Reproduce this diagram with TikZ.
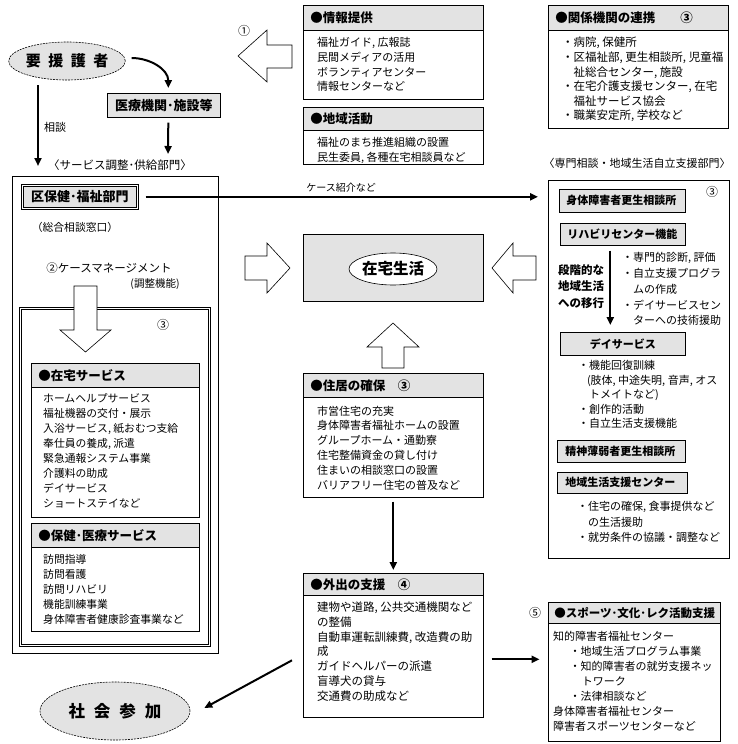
\documentclass[tikz,border=0pt]{standalone}
\usepackage{fontspec}
\setmainfont{Noto Sans CJK JP}
\usetikzlibrary{arrows.meta,shapes.geometric}
\begin{document}
\begin{tikzpicture}[x=1pt,y=-1pt,
  box/.style={draw, line width=0.6pt, anchor=north west, inner sep=0pt},
  hdr/.style={draw, line width=0.6pt, fill=gray!22, anchor=north west, inner xsep=7pt, inner ysep=0pt, align=left, font=\bfseries\fontsize{12.5pt}{14pt}\selectfont},
  body/.style={anchor=north west, inner sep=0pt, align=left},
  lab/.style={draw, line width=0.6pt, fill=gray!22, anchor=north west, inner xsep=7pt, inner ysep=0pt, align=left, font=\bfseries\fontsize{11pt}{13pt}\selectfont},
  arr/.style={line width=2pt, -{Triangle[length=8pt,width=7pt]}},
  hollow/.style={draw, line width=0.6pt, fill=white, line join=miter},
  txt/.style={inner sep=0pt, font=\fontsize{11pt}{13pt}\selectfont},
  oval/.style={ellipse, draw, line width=0.6pt, dash pattern=on 2pt off 1pt, fill=gray!22, inner sep=0pt},
]
\useasboundingbox (0,0) rectangle (737,744);

% ---------- left top ----------
\node[oval, minimum width=111pt, minimum height=38pt, font=\bfseries\fontsize{15pt}{16pt}\selectfont] (yoen) at (67,61) {要\hspace{7.5pt}援\hspace{7.5pt}護\hspace{7.5pt}者};
\node[box, fill=gray!22, minimum width=113pt, minimum height=24pt, font=\bfseries\fontsize{13pt}{14pt}\selectfont] (iryo) at (107,93) {医療機関･施設等};
\node[txt] (soudan) at (55,127) {相談};
\node[txt, font=\fontsize{11.5pt}{13pt}\selectfont] (kyokyu) at (120,165) {〈サービス調整･供給部門〉};

\coordinate (c1s) at (38,85);
\coordinate (iryoEnd) at (168,154);
\draw[arr] ([xshift=6pt,yshift=3pt]yoen.east) to[out=0,in=90] ([xshift=4.5pt,yshift=5pt]iryo.north);
\draw[arr] ([xshift=4.5pt,yshift=-5pt]iryo.south) -- (iryoEnd);

% ---------- left big box ----------
\node[box, minimum width=206pt, minimum height=477pt] (leftBig) at (12,176) {};
\draw[arr, shorten >=10pt] (c1s) -- (c1s |- leftBig.north);
\node[box, fill=gray!22, double, double distance=1.5pt, minimum width=115pt, minimum height=23pt, font=\bfseries\fontsize{13pt}{14pt}\selectfont] (kuhoken) at (22,185) {区保健･福祉部門};
\node[txt, font=\fontsize{10.8pt}{13pt}\selectfont] (sogo) at (75,227) {（総合相談窓口）};
\node[txt, font=\fontsize{11.5pt}{13pt}\selectfont] (cm) at (109,268) {②ケースマネージメント};
\node[txt, font=\fontsize{10.5pt}{12pt}\selectfont] (chosei) at (155,284) {(調整機能)};
\node[box, double, double distance=1.6pt, minimum width=189pt, minimum height=337pt] (innerD) at (20,308) {};
\node[txt, font=\fontsize{12pt}{13pt}\selectfont] (n3a) at (163,325) {③};
\draw[hollow] (85.5,352) -- (60,330) -- (74,330) -- (74,286) -- (97,286) -- (97,330) -- (111,330) -- cycle;

% 在宅サービス
\node[box, minimum width=168pt, minimum height=154pt] (zsv) at (31,363) {};
\node[hdr, text width=154pt, minimum height=24pt] (zsvH) at (31,363) {●在宅サービス};
\node[body, font=\fontsize{10.8pt}{15pt}\selectfont] (zsvB) at (43,393.6) {ホームヘルプサービス\\福祉機器の交付・展示\\入浴サービス, 紙おむつ支給\\奉仕員の養成, 派遣\\緊急通報システム事業\\介護料の助成\\デイサービス\\ショートステイなど};

% 保健・医療サービス
\node[box, minimum width=168pt, minimum height=108pt] (hoken) at (31,523) {};
\node[hdr, text width=154pt, minimum height=24pt] (hokenH) at (31,523) {●保健･医療サービス};
\node[body, font=\fontsize{10.8pt}{15pt}\selectfont] (hokenB) at (43,554.6) {訪問指導\\訪問看護\\訪問リハビリ\\機能訓練事業\\身体障害者健康診査事業など};

% ---------- middle column ----------
\node[txt, font=\fontsize{12pt}{13pt}\selectfont] (n1) at (244,31) {①};
\draw[hollow] (238,56) -- (267,30) -- (267,45) -- (292,45) -- (292,68) -- (267,68) -- (267,82) -- cycle;

\node[box, minimum width=180pt, minimum height=94pt] (info) at (303,5) {};
\node[hdr, text width=166pt, minimum height=25pt] (infoH) at (303,5) {●情報提供};
\node[body, font=\fontsize{11pt}{14.6pt}\selectfont] (infoB) at (317,37.5) {福祉ガイド, 広報誌\\民間メディアの活用\\ボランティアセンター\\情報センターなど};

\node[box, minimum width=180pt, minimum height=57pt] (chiiki) at (303,107) {};
\node[hdr, text width=166pt, minimum height=23pt] (chiikiH) at (303,107) {●地域活動};
\node[body, font=\fontsize{11pt}{14.5pt}\selectfont] (chiikiB) at (317,137.5) {福祉のまち推進組織の設置\\民生委員, 各種在宅相談員など};

\node[txt, font=\fontsize{10pt}{12pt}\selectfont] (case) at (341,188) {ケース紹介など};

\node[box, fill=gray!22, minimum width=180pt, minimum height=67pt] (zaitaku) at (303,234) {};
\node[ellipse, draw, line width=0.6pt, fill=white, minimum width=88pt, minimum height=32pt, inner sep=0pt, font=\bfseries\fontsize{15.5pt}{16pt}\selectfont] (zaitakuE) at (393,269) {在宅生活};

\draw[hollow] (290,268) -- (267,243) -- (267,256) -- (245,256) -- (245,280) -- (267,280) -- (267,293) -- cycle;
\draw[hollow] (492,268) -- (513,243) -- (513,256) -- (536,256) -- (536,280) -- (513,280) -- (513,293) -- cycle;
\draw[hollow] (393,323) -- (419,347) -- (404,347) -- (404,368) -- (382,368) -- (382,347) -- (367,347) -- cycle;

\node[box, minimum width=180pt, minimum height=124pt] (jukyo) at (303,373) {};
\node[hdr, text width=166pt, minimum height=24pt] (jukyoH) at (303,373) {●住居の確保\hspace{1em}③};
\node[body, font=\fontsize{11pt}{14.8pt}\selectfont] (jukyoB) at (317,405.5) {市営住宅の充実\\身体障害者福祉ホームの設置\\グループホーム・通勤寮\\住宅整備資金の貸し付け\\住まいの相談窓口の設置\\バリアフリー住宅の普及など};

\node[box, minimum width=180pt, minimum height=144pt] (gaishutsu) at (303,573) {};
\node[hdr, text width=166pt, minimum height=22pt] (gaishutsuH) at (303,573) {●外出の支援\hspace{1em}④};
\node[body, font=\fontsize{11.5pt}{14.7pt}\selectfont] (gaishutsuB) at (317,602) {建物や道路, 公共交通機関など\\の整備\\自動車運転訓練費, 改造費の助\\成\\ガイドヘルパーの派遣\\盲導犬の貸与\\交通費の助成など};

\draw[arr, shorten <=4pt, shorten >=3pt] (jukyo.south) -- (gaishutsu.north);

\node[oval, minimum width=150pt, minimum height=58pt, font=\bfseries\fontsize{16.5pt}{17pt}\selectfont] (shakai) at (115,711) {社\hspace{9pt}会\hspace{9pt}参\hspace{9pt}加};
\coordinate (diagS) at ([xshift=-11pt,yshift=-15pt]gaishutsu.west);
\coordinate (diagE) at ([xshift=14pt,yshift=3pt]shakai.east);
\draw[arr] (diagS) -- (diagE);

% ---------- right column ----------
\node[box, minimum width=180pt, minimum height=123pt] (renkei) at (548,5) {};
\node[hdr, text width=166pt, minimum height=25pt] (renkeiH) at (548,5) {●関係機関の連携\hspace{2em}③};
\node[body, font=\fontsize{11.5pt}{14.6pt}\selectfont] (renkeiB) at (562,37) {・病院, 保健所\\・区福祉部, 更生相談所, 児童福\\\hspace*{1em}祉総合センター, 施設\\・在宅介護支援センター, 在宅\\\hspace*{1em}福祉サービス協会\\・職業安定所, 学校など};

\node[txt] (senmonL) at (637,163) {〈専門相談・地域生活自立支援部門〉};
\node[box, minimum width=181pt, minimum height=378pt] (rightBig) at (548,180) {};
\draw[arr, shorten <=8pt, shorten >=10pt] (kuhoken.east) -- (kuhoken.east -| rightBig.west);
\node[txt, font=\fontsize{12pt}{13pt}\selectfont] (n3b) at (712,192) {③};

\node[lab, text width=112pt, minimum height=23pt] (shintai) at (559,189) {身体障害者更生相談所};
\node[lab, text width=111pt, minimum height=22pt] (rihabiri) at (560,223) {リハビリセンター機能};
\node[body, font=\bfseries\fontsize{11.5pt}{16.5pt}\selectfont] (dankai) at (558,264.3) {段階的な\\地域生活\\への移行};
\node[body, font=\fontsize{11pt}{15.7pt}\selectfont] (rihaB) at (622,252.5) {・専門的診断, 評価\\・自立支援プログラ\\\hspace*{1em}ムの作成\\・デイサービスセン\\\hspace*{1em}ターへの技術援助};
\node[lab, minimum width=125pt, minimum height=23pt, align=center, inner xsep=0pt] (dayS) at (560,332) {デイサービス};
\draw[arr] ([xshift=-12.5pt,yshift=-5pt]rihabiri.south) -- ([xshift=-12.5pt,yshift=7pt]dayS.north);
\node[body, font=\fontsize{11pt}{14.5pt}\selectfont] (dayB) at (578,360.5) {・機能回復訓練\\\hspace*{0.8em}(肢体, 中途失明, 音声, オス\\\hspace*{1em}トメイトなど)\\・創作的活動\\・自立生活支援機能};
\node[lab, text width=112pt, minimum height=22pt, inner xsep=8pt] (seishin) at (557,440) {精神薄弱者更生相談所};
\node[lab, text width=114pt, minimum height=21pt, inner xsep=8pt] (chiikiC) at (557,472) {地域生活支援センター};
\node[body, font=\fontsize{11pt}{15.5pt}\selectfont] (chiikiB2) at (577,501.5) {・住宅の確保, 食事提供など\\\hspace*{1em}の生活援助\\・就労条件の協議・調整など};

\node[txt, font=\fontsize{12pt}{13pt}\selectfont] (n5) at (535,613) {⑤};
\node[box, minimum width=172pt, minimum height=139pt] (sports) at (548,602) {};
\node[hdr, text width=160pt, minimum height=21pt, inner xsep=6pt, font=\bfseries\fontsize{11.5pt}{13pt}\selectfont] (sportsH) at (548,602) {●スポーツ･文化･レク活動支援};
\node[body, font=\fontsize{11pt}{15pt}\selectfont] (sportsB) at (553,631.5) {知的障害者福祉センター\\\hspace*{1.5em}・地域生活プログラム事業\\\hspace*{1.5em}・知的障害者の就労支援ネッ\\\hspace*{2.6em}トワーク\\\hspace*{1.5em}・法律相談など\\身体障害者福祉センター\\障害者スポーツセンターなど};
\draw[arr] ([xshift=8pt,yshift=-14pt]gaishutsu.east) -- ++(48,0);
\end{tikzpicture}
\end{document}
